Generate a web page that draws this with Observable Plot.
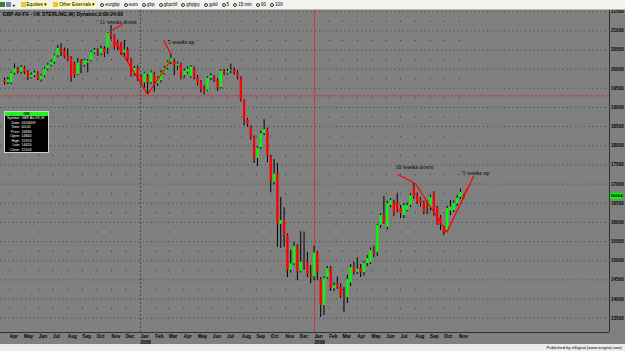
<!DOCTYPE html>
<html>
<head>
<meta charset="utf-8">
<script src="https://cdn.jsdelivr.net/npm/d3@7"></script>
<script src="https://cdn.jsdelivr.net/npm/@observablehq/plot@0.6"></script>
<style>
  html, body { margin: 0; padding: 0; }
  body { width: 625px; height: 351px; overflow: hidden; background: #808080; font-family: "Liberation Sans", Arial, sans-serif; position: relative; }
  #toolbar { height: 9px; background: #f2f2ee; border-bottom: 1px solid #b8b8b0; display: flex; align-items: center; font-size: 4.6px; color: #000; white-space: nowrap; overflow: hidden; }
  #toolbar span { margin-right: 4px; display: inline-flex; align-items: center; }
  #toolbar .ico { width: 5px; height: 5px; margin-right: 1px; display: inline-block; }
  #toolbar .circ { width: 4px; height: 4px; border: 0.6px solid #333; border-radius: 50%; margin-right: 1px; display: inline-block; box-sizing: border-box; }
  #toolbar .btn { background: #ffff99; padding: 0 1px; }
  #chart { height: 334px; }
  #status { height: 7px; background: #ecece8; font-size: 4.2px; text-align: right; padding-right: 3px; line-height: 7px; color: #000; }
  #dw { position: absolute; left: 4px; top: 111px; width: 45px; height: 42px; background: #000; border: 0.7px solid #cfcfcf; box-sizing: border-box; color: #fff; font-size: 3.6px; line-height: 4.5px; white-space: nowrap; overflow: hidden; }
  #dw .hdr { background: #22ee22; color: #000; text-align: center; height: 4px; line-height: 4px; font-weight: bold; margin-bottom: 0.3px; }
  #dw .row { display: flex; height: 4.5px; }
  #dw .k { width: 15px; text-align: right; padding-right: 1.5px; flex: none; }
  #price { position: absolute; left: 610px; width: 13px; height: 6px; background: #00ff00; color: #000; font-size: 4.4px; line-height: 6px; text-align: center; font-weight: bold; }
</style>
</head>
<body>
<div id="toolbar">
  <span><i class="ico" style="background:#3a7a3a"></i><i class="ico" style="background:#6a8ab0"></i><b style="font-size:6px">+</b></span>
  <span class="btn"><i class="ico" style="background:#e8c830"></i>Equities ▾</span>
  <span class="btn"><i class="ico" style="background:#e8c830"></i>Other Externals ▾</span>
  <span><i class="circ"></i>eurgbp</span>
  <span><i class="circ"></i>euro</span>
  <span><i class="circ"></i>gbp</span>
  <span><i class="circ"></i>gbpchf</span>
  <span><i class="circ"></i>gbpjpy</span>
  <span><i class="circ"></i>gold</span>
  <span><i class="circ"></i>5</span>
  <span><i class="circ"></i>15 min</span>
  <span><i class="circ"></i>60</span>
  <span><i class="circ"></i>100</span>
</div>
<div id="chart"></div>
<div id="status">Published by eSignal (www.esignal.com)</div>
<div id="dw">
  <div class="hdr">GSI</div>
  <div class="row"><span class="k">Symbol:</span><span>GBP A0-FX,W</span></div>
  <div class="row"><span class="k">Date:</span><span>01/06/09</span></div>
  <div class="row"><span class="k">Time:</span><span>00:00</span></div>
  <div class="row"><span class="k">Price:</span><span>16836</span></div>
  <div class="row"><span class="k">Open:</span><span>14840</span></div>
  <div class="row"><span class="k">High:</span><span>15374</span></div>
  <div class="row"><span class="k">Low:</span><span>14420</span></div>
  <div class="row"><span class="k">Close:</span><span>15103</span></div>
</div>
<div id="price"></div>
<script>
// ---- Data (GBP/USD weekly, price x10000) ----
const firstWeek = Date.UTC(2007, 2, 21);
const open  = [19700,19650,19640,19890,20000,19920,20030,19900,19780,19830,19880,19720,19820,20000,20100,20180,20350,20540,20480,20320,20300,20140,19860,20190,20100,20160,20220,20420,20460,20400,20530,20550,20930,20870,20690,20640,20420,20490,20230,19880,20030,19800,19640,19790,19650,19870,19620,19700,19890,20020,20170,20200,20080,20110,19830,19920,19800,20000,19780,19650,19480,19450,19760,19780,19700,19520,19950,19890,19950,19970,19900,19750,19180,18680,18480,18220,17670,17950,18320,18420,17700,17050,17260,15950,16070,15660,14750,14920,15370,14720,14950,14950,14640,14580,15200,14500,13830,14560,14790,14270,14400,14300,14090,14040,14420,14820,14700,14800,14690,14930,14950,15270,15210,15920,16180,15870,16440,16520,16520,16360,16180,16310,16440,16910,16700,16600,16520,16450,16380,16750,16360,16130,15840,15790,16300,16310,16480,16650,16690];
const high  = [19770,19780,19920,20140,20050,20090,20070,19960,19900,19950,19930,19860,20040,20150,20230,20380,20620,20660,20550,20530,20330,20180,20280,20250,20260,20250,20470,20540,20530,20600,20590,20950,21140,20900,20760,20690,20750,20560,20280,20070,20080,19850,19920,19860,19950,19920,19800,19960,20070,20210,20400,20260,20180,20150,20000,20060,20090,20050,19840,19700,19560,19800,19880,19830,19750,19980,19990,19990,20130,20030,19960,19800,19200,18720,18520,18260,17970,18380,18680,18460,17750,17640,17540,16650,16380,15700,15270,15480,15420,15750,15750,15220,14880,15380,15250,14560,14580,14850,14850,14420,14580,14400,14300,14620,14900,14960,15080,14900,14980,15130,15330,15380,15950,16230,16680,16550,16620,16580,16760,16440,16490,16500,16750,17020,16770,16650,16560,16560,16700,16800,16420,16180,15900,16420,16570,16560,16700,16870,16720];
const low   = [19580,19600,19600,19850,19880,19870,19860,19700,19740,19780,19700,19660,19780,19960,20060,20130,20300,20330,20270,20190,19650,19760,19830,19880,20050,19900,20180,20380,20330,20360,20300,20380,20760,20500,20480,20350,20300,20200,19790,19820,19680,19560,19490,19350,19600,19400,19550,19640,19850,19980,20120,19830,19970,19720,19770,19880,19760,19720,19560,19380,19330,19420,19700,19650,19420,19480,19830,19850,19880,19850,19720,19140,18520,18480,18150,17540,17460,17900,18270,17560,16780,16980,15350,15320,15350,14560,14680,14880,14480,14680,14750,14560,14400,14480,14480,13520,13570,14520,14200,14190,14250,14020,13650,13880,14330,14620,14640,14560,14600,14850,14900,15080,15110,15850,15950,15800,16380,16150,16250,16100,16100,16280,16390,16600,16470,16400,16200,16200,16300,16170,15920,15790,15660,15740,16180,16260,16420,16600,16600];
const close = [19650,19720,19890,20010,19930,20040,19900,19780,19840,19900,19740,19820,20000,20100,20180,20350,20540,20480,20310,20250,19790,19830,20160,20110,20220,20200,20430,20490,20390,20530,20430,20930,20830,20560,20560,20410,20490,20250,19840,20020,19740,19640,19880,19650,19900,19650,19760,19900,20030,20170,20270,20090,20130,19790,19950,20000,20050,19770,19620,19480,19400,19760,19820,19700,19490,19940,19880,19940,19970,19920,19780,19190,18680,18560,18220,17670,17930,18320,18420,17720,17100,17260,15970,16050,15660,14750,14920,15370,14720,14960,14920,14640,14580,15200,14680,13830,14530,14790,14270,14350,14300,14070,14040,14510,14820,14690,14780,14680,14930,15060,15270,15190,15920,16180,16000,16490,16570,16230,16310,16230,16440,16440,16700,16650,16520,16490,16260,16390,16650,16310,15970,15920,15740,16360,16400,16500,16630,16780,16664];

const yTicks = [13500,14000,14500,15000,15500,16000,16500,17000,17500,18000,18500,19000,19500,20000,20500,21000,21500];
const monthLabels = ["Jan","Feb","Mar","Apr","May","Jun","Jul","Aug","Sep","Oct","Nov","Dec"];
const titleText = "GBP A0-FX - UK STERLING,W) Dynamic,0:00-24:00";

// annotation lines in (week index, price)
const annotLines = [
  {w1: 31.9, p1: 21000, w2: 35.4, p2: 21165},
  {w1: 33.4, p1: 20700, w2: 43.0, p2: 19340},
  {w1: 43.0, p1: 19340, w2: 49.9, p2: 20230},
  {w1: 47.8, p1: 20750, w2: 49.9, p2: 20410},
  {w1: 118.1, p1: 17250, w2: 123.5, p2: 17015},
  {w1: 123.5, p1: 17015, w2: 132.9, p2: 15740},
  {w1: 132.9, p1: 15740, w2: 141.0, p2: 17220},
  {w1: 137.6, p1: 16620, w2: 138.9, p2: 16880}
];
const annotTexts = [
  {w: 34.1, p: 21215, text: "11 weeks down", anchor: "middle"},
  {w: 49.0, p: 20695, text: "5 weeks up", anchor: "start"},
  {w: 117.5, p: 17433, text: "10 weeks down", anchor: "start"},
  {w: 137.6, p: 17300, text: "5 weeks up", anchor: "start"}
];
const supportLevel = 19304;
const separator2008 = Date.UTC(2008, 0, 1);
const separator2009 = Date.UTC(2009, 0, 1);

// ---- Build ----
const DAY = 86400000;
const weekDate = w => new Date(firstWeek + w * 7 * DAY);
const candles = open.map((o, i) => ({date: weekDate(i), open: o, high: high[i], low: low[i], close: close[i]}));
const links = annotLines.map(d => ({x1: weekDate(d.w1), y1: d.p1, x2: weekDate(d.w2), y2: d.p2}));
const texts = annotTexts.map(d => ({x: weekDate(d.w), y: d.p, text: d.text, anchor: d.anchor}));
const monthTicks = d3.utcMonth.range(new Date(Date.UTC(2007, 3, 1)), new Date(Date.UTC(2009, 11, 1)));
const xDomain = [new Date(Date.UTC(2007, 2, 12, 12)), new Date(Date.UTC(2010, 8, 13, 12))];
const yDomain = [13127, 21530];

const fmtMonth = d => d.getUTCMonth() === 0 ? `${monthLabels[0]}\n${d.getUTCFullYear()}` : monthLabels[d.getUTCMonth()];

const chart = Plot.plot({
  width: 625,
  height: 334,
  marginLeft: 0,
  marginRight: 16,
  marginTop: 0,
  marginBottom: 12,
  style: {background: "#808080", color: "#000", fontFamily: "Liberation Sans, Arial, sans-serif"},
  x: {type: "utc", domain: xDomain},
  y: {domain: yDomain},
  marks: [
    Plot.ruleY(yTicks, {stroke: "#2e2e2e", strokeWidth: 0.8, strokeDasharray: "0.9,3.3"}),
    Plot.ruleX(monthTicks.filter(d => +d !== separator2008), {y1: 21250, y2: 13250, stroke: "#2e2e2e", strokeWidth: 0.9, strokeDasharray: "1,18.16"}),
    Plot.ruleX([new Date(separator2008)], {stroke: "#3c3c3c", strokeWidth: 0.8, strokeDasharray: "2,2"}),
    Plot.ruleY([supportLevel], {stroke: "#c83c3c", strokeWidth: 0.9}),
    Plot.ruleX([new Date(separator2009)], {stroke: "#e03030", strokeWidth: 0.9}),
    Plot.ruleX(candles, {x: "date", y1: "low", y2: "high", stroke: "#000", strokeWidth: 1}),
    Plot.ruleX(candles, {x: "date", y1: "open", y2: "close", stroke: d => d.close >= d.open ? "#00ff00" : "#ff0000", strokeWidth: 2.3}),
    Plot.link(links, {x1: "x1", y1: "y1", x2: "x2", y2: "y2", stroke: "#ff0000", strokeWidth: 1.2}),
    Plot.text(texts.filter(d => d.anchor === "middle"), {x: "x", y: "y", text: "text", textAnchor: "middle", fontSize: 6, fontFamily: "Liberation Serif, serif", fill: "#000"}),
    Plot.text(texts.filter(d => d.anchor === "start"), {x: "x", y: "y", text: "text", textAnchor: "start", fontSize: 6, fontFamily: "Liberation Serif, serif", fill: "#000"}),
    Plot.text([titleText], {frameAnchor: "top-left", dx: 2, dy: 2, fontSize: 5, fontWeight: "bold", fill: "#000"}),
    Plot.ruleX([xDomain[1]], {stroke: "#303030", strokeWidth: 1}),
    Plot.ruleY([yDomain[0]], {stroke: "#303030", strokeWidth: 1}),
    Plot.axisY(yTicks, {anchor: "right", tickSize: 0, tickPadding: 1.5, fontSize: 4.6, fontWeight: "bold", tickFormat: d => String(d), label: null}),
    Plot.axisX(monthTicks, {anchor: "bottom", tickSize: 0, tickPadding: 1.5, fontSize: 4.7, fontWeight: "bold", textAnchor: "start", tickFormat: fmtMonth, label: null, lineHeight: 1.2})
  ]
});
document.getElementById("chart").appendChild(chart);

// current price marker placed via the y scale
const lastClose = close[close.length - 1];
const py = chart.scale("y").apply(lastClose);
const pm = document.getElementById("price");
pm.textContent = String(lastClose);
pm.style.top = (10 + py - 3) + "px";
</script>
</body>
</html>
